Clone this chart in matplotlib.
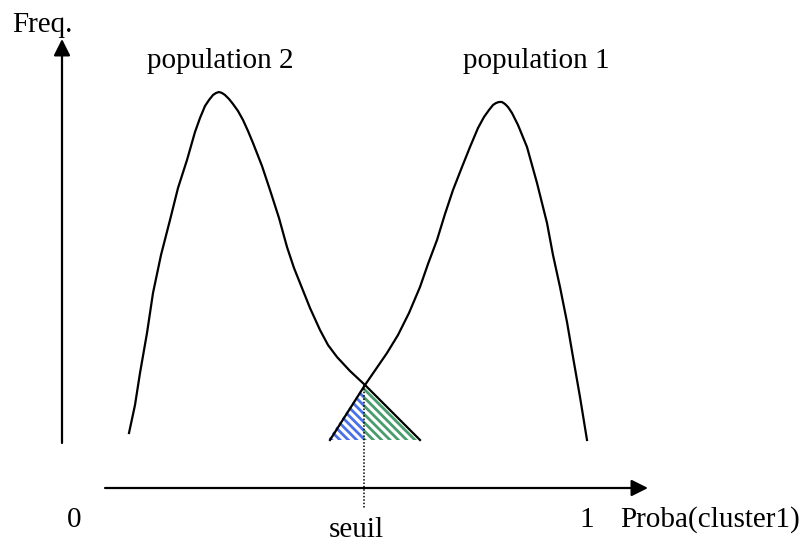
import matplotlib.pyplot as plt
import matplotlib as mpl

plt.rcParams['font.family'] = ['Liberation Serif', 'DejaVu Serif']
mpl.rcParams['hatch.linewidth'] = 2.0

# Curve points (pixel coords, y down)
pop2_x = [129, 132, 135, 140, 147, 153, 161, 170, 178, 187, 195, 200, 205, 209,
          213, 216, 219, 222, 225, 229, 233, 238, 243, 248, 253, 262, 270, 279,
          287, 294, 300, 310, 320, 328, 337, 350, 365, 392, 420]
pop2_y = [433, 419, 405, 373, 333, 293, 255, 220, 188, 160, 132, 118, 106, 100,
          95, 93, 92, 93, 95, 99, 104, 111, 120, 131, 143, 166, 190, 218,
          247, 268, 283, 308, 330, 345, 357, 371, 385, 412, 440]

pop1_x = [330, 365, 376, 387, 398, 409, 420, 428, 437, 445, 453, 462, 470, 478,
          484, 489, 493, 496, 499, 502, 505, 508, 512, 518, 527, 537, 547, 553,
          560, 567, 573, 580, 587]
pop1_y = [440, 385, 369, 353, 335, 313, 287, 264, 240, 214, 190, 167, 147, 128,
          117, 110, 105, 103, 102, 102, 104, 107, 113, 125, 147, 183, 223, 255,
          287, 322, 357, 397, 440]

# threshold and error triangles
seuil_x = 364
seuil_y = 385
base_y = 440
left_x = 330
right_x = 420

fig = plt.figure(figsize=(8.09, 5.44), dpi=100)
ax = fig.add_axes([0, 0, 1, 1])
ax.set_xlim(0, 809)
ax.set_ylim(544, 0)
ax.axis('off')

# hatched areas under the crossing
ax.fill([left_x - 2, seuil_x, seuil_x], [base_y, seuil_y, base_y],
        facecolor='white', edgecolor='#4a72e6', hatch='\\\\\\\\', linewidth=0)
ax.fill([seuil_x, seuil_x, right_x], [base_y, seuil_y, base_y],
        facecolor='white', edgecolor='#4a9c6c', hatch='\\\\\\\\', linewidth=0)

ax.plot(pop2_x, pop2_y, color='black', lw=1.6, solid_joinstyle='round')
ax.plot(pop1_x, pop1_y, color='black', lw=1.6, solid_joinstyle='round')

# threshold line
ax.plot([seuil_x, seuil_x], [seuil_y, 508], color='black', lw=1.1, linestyle=(0, (1, 1.2)))

# axes arrows
arrow = dict(arrowstyle='-|>,head_length=1.0,head_width=0.5', mutation_scale=10,
             color='black', lw=1.6, shrinkA=0, shrinkB=0)
ax.annotate('', xy=(62, 39), xytext=(62, 443), arrowprops=arrow)
ax.annotate('', xy=(648, 488), xytext=(105, 488), arrowprops=arrow)

fs = 21
ax.text(12, 32, 'Freq.', fontsize=fs, va='baseline', ha='left')
ax.text(147, 68, 'population 2', fontsize=fs, va='baseline', ha='left')
ax.text(463, 68, 'population 1', fontsize=fs, va='baseline', ha='left')
ax.text(74, 527, '0', fontsize=fs, va='baseline', ha='center')
ax.text(587, 527, '1', fontsize=fs, va='baseline', ha='center')
ax.text(620, 527, 'Proba(cluster1)', fontsize=fs, va='baseline', ha='left')
ax.text(356, 537, 'seuil', fontsize=fs, va='baseline', ha='center')

fig.savefig('out.png', dpi=100)
